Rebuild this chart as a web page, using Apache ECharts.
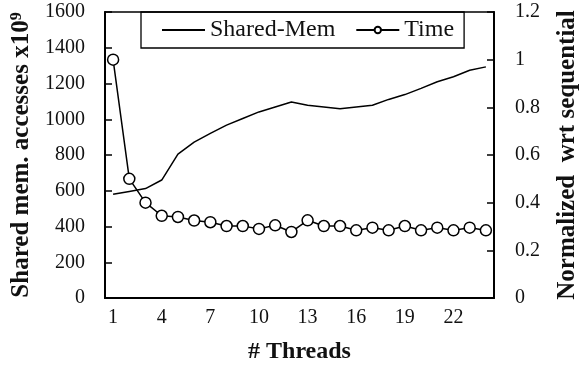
<!DOCTYPE html>
<html>
<head>
<meta charset="utf-8">
<script src="https://cdn.jsdelivr.net/npm/echarts@6/dist/echarts.min.js"></script>
<style>
  html, body { margin: 0; padding: 0; background: #fff; }
  #chart { width: 588px; height: 369px; }
</style>
</head>
<body>
<div id="chart"></div>
<script>
// Thread counts on the x axis
const threads = ['1','2','3','4','5','6','7','8','9','10','11','12','13','14','15','16','17','18','19','20','21','22','23','24'];
// Shared memory accesses (x10^9), left axis
const sharedMem = [580, 596, 612, 660, 805, 872, 921, 967, 1004, 1041, 1069, 1096, 1078, 1069, 1059, 1069, 1078, 1111, 1138, 1173, 1210, 1238, 1274, 1293];
// Execution time normalized to sequential run, right axis
const timeNorm = [1.0, 0.50, 0.40, 0.345, 0.34, 0.325, 0.318, 0.302, 0.302, 0.29, 0.305, 0.277, 0.326, 0.302, 0.302, 0.284, 0.295, 0.284, 0.302, 0.284, 0.295, 0.284, 0.295, 0.284];

const serif = "'Liberation Serif', 'Times New Roman', serif";
const ink = '#111';
const plain = v => String(v);

const chart = echarts.init(document.getElementById('chart'), null, { renderer: 'canvas' });
chart.setOption({
  animation: false,
  backgroundColor: '#fff',
  grid: {
    left: 105, top: 12, right: 87, bottom: 67,
    show: true, borderColor: '#000', borderWidth: 1.5, backgroundColor: 'transparent'
  },
  legend: {
    left: 141, top: 12,
    padding: [6, 10, 6, 20],
    borderColor: '#000', borderWidth: 1.3, borderRadius: 0,
    itemWidth: 43, itemHeight: 8, itemGap: 20,
    textStyle: { fontFamily: serif, fontSize: 24, color: ink },
    data: [
      { name: 'Shared-Mem', itemStyle: { opacity: 0 } },
      { name: 'Time' }
    ]
  },
  xAxis: {
    type: 'category',
    data: threads,
    boundaryGap: true,
    name: '# Threads',
    nameLocation: 'middle',
    nameGap: 42,
    nameTextStyle: { fontFamily: serif, fontSize: 24, fontWeight: 'bold', color: ink },
    axisLine: { lineStyle: { color: '#000', width: 2 } },
    axisTick: { inside: true, length: 7, interval: 2, alignWithLabel: false, lineStyle: { color: '#000', width: 1.5 } },
    axisLabel: { interval: 2, margin: 10, fontFamily: serif, fontSize: 20, color: ink },
    splitLine: { show: false }
  },
  yAxis: [
    {
      type: 'value', min: 0, max: 1600, interval: 200, position: 'left',
      name: 'Shared mem. accesses x10{sup|9}',
      nameLocation: 'middle', nameRotate: 90, nameGap: 67,
      nameTextStyle: {
        fontFamily: serif, fontSize: 25, fontWeight: 'bold', color: ink,
        rich: { sup: { fontFamily: serif, fontSize: 16, fontWeight: 'bold', color: ink, verticalAlign: 'top', padding: [0, 0, 10, 0] } }
      },
      axisLine: { show: true, lineStyle: { color: '#000', width: 2 } },
      axisTick: { show: true, inside: true, length: 7, lineStyle: { color: '#000', width: 1.5 } },
      axisLabel: { margin: 20, fontFamily: serif, fontSize: 20, color: ink, formatter: plain },
      splitLine: { show: false }
    },
    {
      type: 'value', min: 0, max: 1.2, interval: 0.2, position: 'right',
      name: 'Normalized  wrt sequential',
      nameLocation: 'middle', nameRotate: 90, nameGap: 61,
      nameTextStyle: { fontFamily: serif, fontSize: 25, fontWeight: 'bold', color: ink },
      axisLine: { show: true, lineStyle: { color: '#000', width: 2 } },
      axisTick: { show: true, inside: true, length: 7, lineStyle: { color: '#000', width: 1.5 } },
      axisLabel: { margin: 21, fontFamily: serif, fontSize: 20, color: ink, formatter: plain },
      splitLine: { show: false }
    }
  ],
  series: [
    {
      name: 'Shared-Mem', type: 'line', yAxisIndex: 0,
      data: sharedMem,
      symbol: 'none', showSymbol: false,
      lineStyle: { color: '#000', width: 1.5 },
      itemStyle: { color: '#000' }
    },
    {
      name: 'Time', type: 'line', yAxisIndex: 1,
      data: timeNorm,
      symbol: 'circle', symbolSize: 11, showAllSymbol: true,
      lineStyle: { color: '#000', width: 1.5 },
      itemStyle: { color: '#fff', borderColor: '#000', borderWidth: 1.5 }
    }
  ]
});
</script>
</body>
</html>
